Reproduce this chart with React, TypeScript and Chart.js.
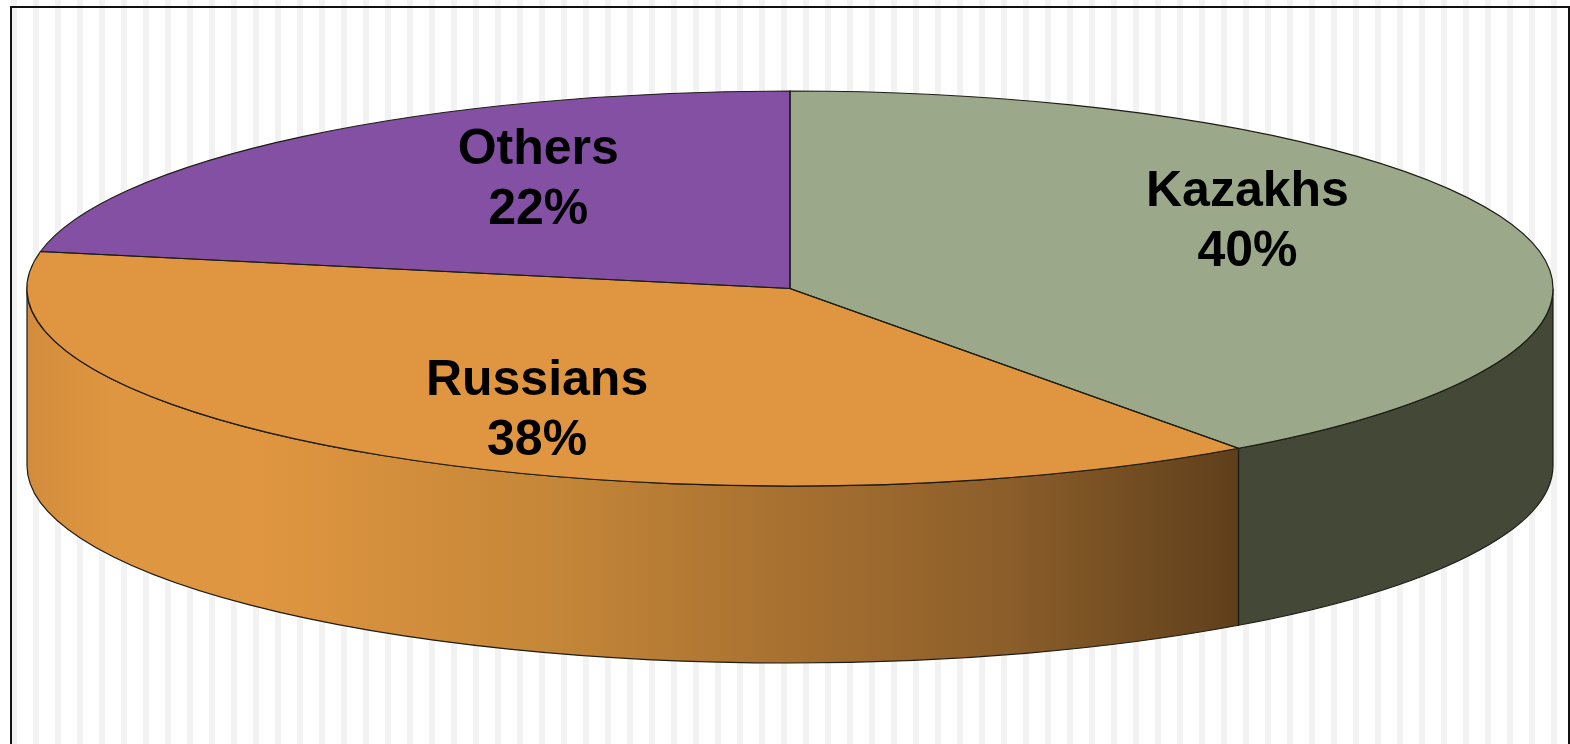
import React, { useEffect, useRef } from "react";
import { Chart, registerables } from "chart.js";

Chart.register(...registerables);

// Ethnic composition shares, in percent
const groups = ["Kazakhs", "Russians", "Others"];
const shares = [40, 38, 22];
const topColors = ["#9BA88A", "#E09640", "#8350A4"];
const sideColors = ["#434837", "#E09640", "#4A2D5E"];

const WIDTH = 1570;
const HEIGHT = 744;

// Flattened disc geometry
const disc = { cx: 790, cy: 288.5, rx: 763, ry: 197.5, depth: 177 };
const outline = "#1c1c14";

// Label placement relative to the disc centre, as fractions of the radii
const labelAnchors = [
  { x: 0.5995, y: -0.335 },
  { x: -0.3315, y: 0.62 },
  { x: -0.33, y: -0.55 },
];

const backgroundPlugin = {
  id: "stripedFrame",
  beforeDraw(chart: any) {
    const { ctx } = chart;
    ctx.save();
    ctx.fillStyle = "#ffffff";
    ctx.fillRect(0, 0, WIDTH, HEIGHT);
    ctx.fillStyle = "#f2f2f2";
    for (let x = 11; x < WIDTH; x += 22) ctx.fillRect(x, 0, 6, HEIGHT);
    ctx.fillStyle = "#111111";
    ctx.fillRect(10, 6, WIDTH - 10, 2);
    ctx.fillRect(10, 6, 2, HEIGHT - 6);
    ctx.fillRect(WIDTH - 2, 6, 2, HEIGHT - 6);
    ctx.restore();
  },
};

// The front wall of the middle slice darkens towards its right end
function wallFill(ctx: CanvasRenderingContext2D, index: number) {
  if (index !== 1) return sideColors[index];
  const g = ctx.createLinearGradient(26, 0, 1238, 0);
  g.addColorStop(0, "#D28C3C");
  g.addColorStop(0.07, "#DF9640");
  g.addColorStop(0.19, "#E09640");
  g.addColorStop(0.44, "#C48638");
  g.addColorStop(0.64, "#A66F30");
  g.addColorStop(0.81, "#8B5E2A");
  g.addColorStop(1, "#5F3F1B");
  return g;
}

const discPlugin = {
  id: "extrudedDisc",
  beforeDatasetsDraw(chart: any) {
    const { ctx } = chart;
    const arcs = chart.getDatasetMeta(0).data;
    const { cx, cy, rx, ry, depth } = disc;

    // Side wall of every slice that faces the viewer
    arcs.forEach((arc: any, i: number) => {
      const from = Math.max(arc.startAngle, 0);
      const to = Math.min(arc.endAngle, Math.PI);
      if (to <= from) return;
      ctx.save();
      ctx.beginPath();
      ctx.ellipse(cx, cy, rx, ry, 0, from, to);
      ctx.ellipse(cx, cy + depth, rx, ry, 0, to, from, true);
      ctx.closePath();
      ctx.fillStyle = wallFill(ctx, i);
      ctx.fill();
      ctx.lineWidth = 1.2;
      ctx.strokeStyle = outline;
      ctx.stroke();
      ctx.restore();
    });

    // The library's circular slices are squeezed into the disc's top face
    const first = arcs[0];
    const radius = first.outerRadius;
    ctx.save();
    ctx.translate(cx, cy);
    ctx.scale(rx / radius, ry / radius);
    ctx.translate(-first.x, -first.y);
  },
  afterDatasetsDraw(chart: any) {
    const { ctx } = chart;
    ctx.restore();
    const arcs = chart.getDatasetMeta(0).data;
    const { cx, cy, rx, ry } = disc;

    arcs.forEach((arc: any) => {
      ctx.save();
      ctx.beginPath();
      ctx.moveTo(cx, cy);
      ctx.ellipse(cx, cy, rx, ry, 0, arc.startAngle, arc.endAngle);
      ctx.closePath();
      ctx.lineWidth = 1.2;
      ctx.strokeStyle = outline;
      ctx.stroke();
      ctx.restore();
    });

    ctx.save();
    ctx.fillStyle = "#000000";
    ctx.font = 'bold 50px "Liberation Sans", Arial, sans-serif';
    ctx.textAlign = "center";
    ctx.textBaseline = "middle";
    groups.forEach((name, i) => {
      const x = cx + labelAnchors[i].x * rx;
      const y = cy + labelAnchors[i].y * ry;
      ctx.fillText(name, x, y - 30);
      ctx.fillText(`${shares[i]}%`, x, y + 30);
    });
    ctx.restore();
  },
};

export default function App() {
  const canvasRef = useRef<HTMLCanvasElement>(null);

  useEffect(() => {
    if (!canvasRef.current) return;
    const chart = new Chart(canvasRef.current, {
      type: "pie",
      data: {
        labels: groups,
        datasets: [
          {
            data: shares,
            backgroundColor: topColors,
            borderWidth: 0,
            clip: false,
          },
        ],
      },
      options: {
        responsive: false,
        animation: false,
        layout: { padding: 0 },
        plugins: { legend: { display: false }, tooltip: { enabled: false } },
      },
      plugins: [backgroundPlugin, discPlugin],
    } as any);
    return () => chart.destroy();
  }, []);

  return (
    <div style={{ position: "absolute", left: 0, top: 0, width: WIDTH, height: HEIGHT }}>
      <canvas ref={canvasRef} width={WIDTH} height={HEIGHT} style={{ display: "block" }} />
    </div>
  );
}
